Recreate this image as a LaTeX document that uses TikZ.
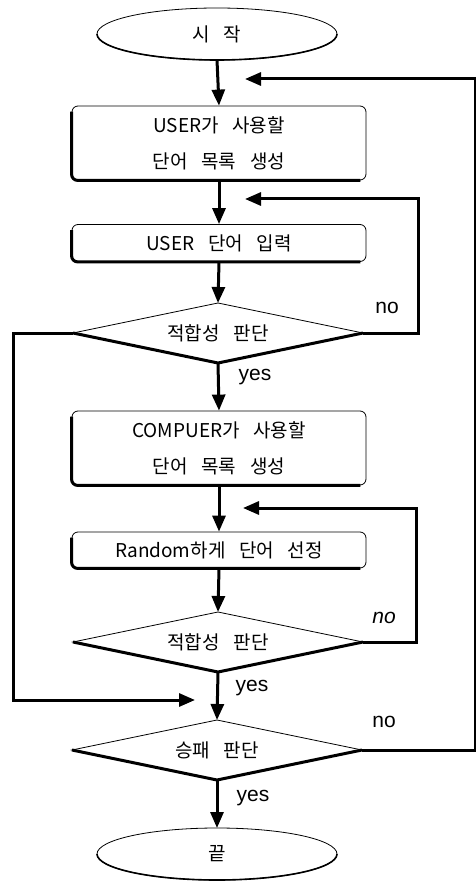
\documentclass[tikz,border=0pt]{standalone}
\usepackage{fontspec}
\setmainfont{Liberation Sans}
\newfontfamily\kor[WordSpace=3.2]{Noto Sans CJK KR}
\usepackage{tikz}
\usetikzlibrary{arrows.meta}
\usetikzlibrary{shapes.geometric}
\usetikzlibrary{positioning}

\tikzset{
  term/.style={draw, ellipse, line width=0.8pt, outer sep=0pt, minimum width=240pt, minimum height=52pt, font=\kor\fontsize{19}{22}\selectfont},
  proc/.style={draw, rounded corners=6pt, line width=0.8pt, minimum width=294pt, align=center, font=\kor\fontsize{19}{22}\selectfont},
  decide/.style={draw, diamond, aspect=4.8, line width=0.8pt, outer sep=0pt, inner sep=1pt, minimum width=290pt, minimum height=60pt, font=\kor\fontsize{19}{22}\selectfont},
  flow/.style={line width=3pt, -{Triangle[length=16pt,width=13pt]}},
  heavy/.style={line width=3pt},
  lbl/.style={font=\fontsize{21}{24}\selectfont, inner sep=0pt}
}

\begin{document}
\begin{tikzpicture}[x=1pt, y=-1pt]
            \useasboundingbox (0,0) rectangle (475,882);

            % blocks
            \node[term]                     (start)  at (217,34)  {시 작};
            \node[proc, minimum height=74pt] (b1)     at (219,143) {USER가 사용할\\[14pt]단어 목록 생성};
            \node[proc, minimum height=37pt] (b2)     at (219,243) {USER 단어 입력};
            \node[decide]                   (d1)     at (218,333) {적합성 판단};
            \node[proc, minimum height=74pt] (b3)     at (219,448) {COMPUER가 사용할\\[14pt]단어 목록 생성};
            \node[proc, minimum height=36pt] (b4)     at (219,550) {Random하게 단어 선정};
            \node[decide]                   (d2)     at (218,642) {적합성 판단};
            \node[decide]                   (d3)     at (217,750) {승패 판단};
            \node[term]                     (finish) at (217,854) {끝};

            % heavy edges on the blocks
            \foreach \b in {b1,b2,b3,b4}
                \draw[heavy, rounded corners=6pt] ([yshift=-6pt]\b.north west) -- (\b.south west) -- ([xshift=-6pt]\b.south east);
            \foreach \d in {d1,d2,d3}
                \draw[heavy] (\d.west) -- (\d.south) -- (\d.east);
            \foreach \e in {start,finish}
                \draw[line width=1.6pt] (\e.west) arc[start angle=180, end angle=360, x radius=120pt, y radius=26pt];

            % merge points and turning points
            \coordinate (m1) at (245,79);
            \coordinate (m2) at (245,199);
            \coordinate (m3) at (243,508);
            \coordinate (m4) at (195,700);
            \coordinate (r1) at (418,199);
            \coordinate (r2) at (416,508);
            \coordinate (r3) at (475,79);
            \coordinate (l1) at (13,700);

            % main flow
            \draw[flow] (start.south) -- (b1.north);
            \draw[flow] (b1.south) -- (b2.north);
            \draw[flow] (b2.south) -- (d1.north);
            \draw[flow] (d1.south) -- (b3.north);
            \draw[flow] (b3.south) -- (b4.north);
            \draw[flow] (b4.south) -- (d2.north);
            \draw[flow] (d2.south) -- (d3.north);
            \draw[flow] (d3.south) -- (finish.north);

            % loops back
            \draw[flow] (d1.east) -| (r1) -- (m2);
            \draw[flow] (d2.east) -| (r2) -- (m3);
            \draw[flow] (d3.east) -| (r3) -- (m1);
            \draw[flow] (d1.west) -| (l1) -- (m4);

            % labels
            \node[lbl] (n1) at (387,308) {no};
            \node[lbl] (y1) at (255,377) {yes};
            \node[lbl, font=\fontsize{21}{24}\selectfont\itshape] (n2) at (384,618) {no};
            \node[lbl] (y2) at (252,688) {yes};
            \node[lbl] (n3) at (384,722) {no};
            \node[lbl] (y3) at (253,798) {yes};

            \end{tikzpicture}
\end{document}
